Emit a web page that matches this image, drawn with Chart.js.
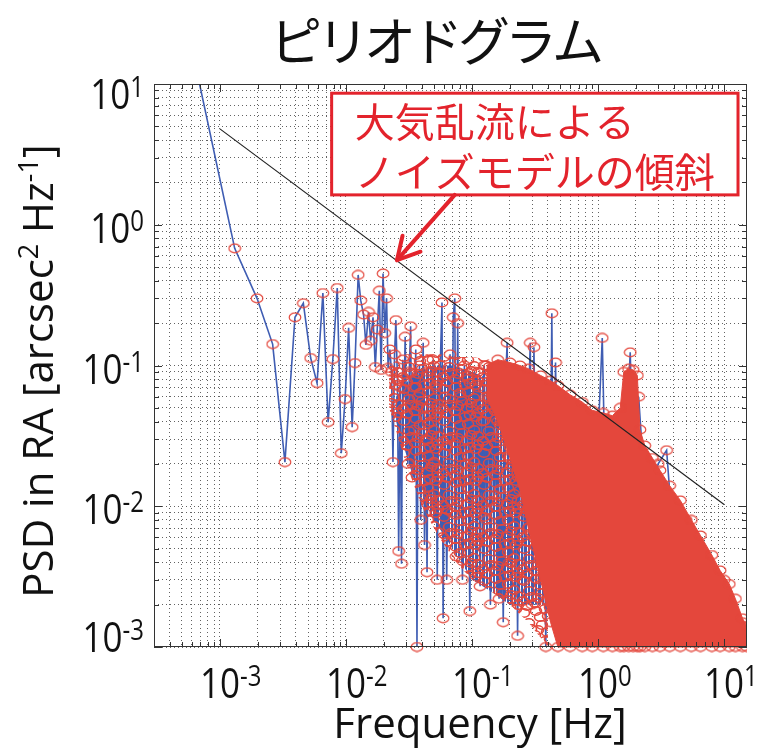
<!DOCTYPE html>
<html>
<head>
<meta charset="utf-8">
<script src="https://cdn.jsdelivr.net/npm/chart.js@4/dist/chart.umd.min.js"></script>
<style>
html, body { margin: 0; padding: 0; background: #fff; }
</style>
</head>
<body>
<canvas id="psd" width="763" height="753"></canvas>
<script>
// text
var chart_title = 'ピリオドグラム';
var x_title = 'Frequency [Hz]';
var y_title = [['PSD in RA [arcsec', 0], ['2', 1], [' Hz', 0], ['-1', 1], [']', 0]];
var note_lines = ['大気乱流による', 'ノイズモデルの傾斜'];

// axes
var x_min = 3e-4, x_max = 15.2, y_min = 1e-3, y_max = 10;
var x_major = [1e-3, 1e-2, 1e-1, 1, 10];
var x_major_exp = ['-3', '-2', '-1', '0', '1'];
var y_major = [1e-3, 1e-2, 1e-1, 1, 10];
var y_major_exp = ['-3', '-2', '-1', '0', '1'];
var minor_steps = [2, 3, 4, 5, 6, 7, 8, 9];

// periodogram, lowest bins (one per frequency step)
var freq_low = [0.00066, 0.00131, 0.00197, 0.00262, 0.00328, 0.00394, 0.00459, 0.00525, 0.0059, 0.00656,
                0.00722, 0.00787, 0.00853, 0.00918, 0.00984, 0.0105, 0.0112, 0.0118, 0.0125, 0.0131,
                0.0138, 0.0144, 0.0151, 0.0157, 0.0164, 0.0171, 0.0177, 0.0184, 0.019, 0.0197];
var psd_low = [12, 0.68, 0.30, 0.142, 0.0206, 0.22, 0.277, 0.113, 0.075, 0.327,
               0.0396, 0.111, 0.355, 0.0238, 0.0577, 0.185, 0.0365, 0.104, 0.44, 0.29,
               0.23, 0.14, 0.24, 0.15, 0.22, 0.0975, 0.18, 0.34, 0.093, 0.45];

// periodogram, dense part (peaks and dips)
var freq_dense = [0.0203, 0.021, 0.0216, 0.0223, 0.023, 0.0236, 0.0243, 0.0249, 0.0256, 0.0262,
                  0.0269, 0.0276, 0.0282, 0.0289, 0.0295, 0.0302, 0.031, 0.0318, 0.0326, 0.0334,
                  0.0342, 0.035, 0.0358, 0.0366, 0.0374, 0.0383, 0.0392, 0.04, 0.041, 0.042,
                  0.043, 0.044, 0.045, 0.046, 0.047, 0.048, 0.049, 0.05, 0.0515, 0.053,
                  0.0545, 0.056, 0.0578, 0.059, 0.061, 0.063, 0.065, 0.067, 0.069, 0.071,
                  0.073, 0.075, 0.077, 0.079, 0.081, 0.084, 0.087, 0.09, 0.093, 0.096,
                  0.1, 0.104, 0.108, 0.112, 0.116, 0.12, 0.125, 0.13, 0.135, 0.14,
                  0.146, 0.152, 0.158, 0.164, 0.17, 0.177, 0.184, 0.19, 0.198, 0.206,
                  0.214, 0.222, 0.23, 0.24, 0.25, 0.26, 0.27, 0.28, 0.29, 0.3,
                  0.31, 0.32, 0.34, 0.355, 0.37, 0.385, 0.4, 0.415, 0.43, 0.445,
                  0.46, 0.48, 0.5, 0.52, 0.55, 0.58, 0.61, 0.7, 0.8, 0.9,
                  1.0, 1.08, 1.15, 1.3, 1.5, 1.7, 1.8, 1.9, 2.1, 2.4,
                  3.0, 3.5, 4.0, 5.0, 7.0, 10, 14];
var psd_dense = [0.17, 0.30, 0.096, 0.13, 0.09, 0.0206, 0.12, 0.21, 0.08, 0.0048,
                 0.07, 0.0039, 0.11, 0.06, 0.16, 0.05, 0.02, 0.09, 0.19, 0.016,
                 0.07, 0.035, 0.13, 0.001, 0.06, 0.10, 0.008, 0.05, 0.145, 0.0053,
                 0.03, 0.0034, 0.09, 0.012, 0.04, 0.0105, 0.11, 0.02, 0.07, 0.003,
                 0.05, 0.10, 0.28, 0.0016, 0.06, 0.003, 0.03, 0.12, 0.009, 0.22,
                 0.30, 0.0044, 0.20, 0.015, 0.06, 0.003, 0.10, 0.02, 0.08, 0.0018,
                 0.05, 0.09, 0.006, 0.07, 0.0027, 0.04, 0.10, 0.008, 0.06, 0.002,
                 0.05, 0.012, 0.08, 0.0022, 0.04, 0.0015, 0.07, 0.145, 0.004, 0.06,
                 0.01, 0.05, 0.0012, 0.07, 0.003, 0.04, 0.009, 0.05, 0.145, 0.002,
                 0.135, 0.02, 0.05, 0.0032, 0.04, 0.001, 0.03, 0.006, 0.235, 0.003,
                 0.105, 0.01, 0.03, 0.004, 0.02, 0.003, 0.015, 0.005, 0.02, 0.004,
                 0.03, 0.157, 0.01, 0.03, 0.005, 0.04, 0.124, 0.02, 0.06, 0.01,
                 0.02, 0.025, 0.005, 0.008, 0.002, 0.003, 0.0015];

// envelope of the solid blue mass of lines
var blue_freq = [0.025, 0.035, 0.05, 0.07, 0.1, 0.14, 0.2, 0.28, 0.38, 0.5];
var blue_top = [0.06, 0.09, 0.1, 0.1, 0.09, 0.08, 0.06, 0.045, 0.03, 0.02];
var blue_low = [0.04, 0.015, 0.008, 0.005, 0.003, 0.0025, 0.002, 0.002, 0.002, 0.003];

// envelope of the mixed red/blue cloud of markers
var mix_freq = [0.022, 0.03, 0.04, 0.055, 0.075, 0.1, 0.14, 0.2, 0.28, 0.4];
var mix_top = [0.1, 0.12, 0.12, 0.12, 0.115, 0.115, 0.11, 0.1, 0.09, 0.08];
var mix_low = [0.05, 0.02, 0.01, 0.006, 0.004, 0.003, 0.0025, 0.002, 0.0015, 0.001];

// envelope of the saturated red cloud of markers
var cloud_freq = [0.13, 0.16, 0.2, 0.24, 0.28, 0.35, 0.42, 0.48, 0.6, 0.75,
                  0.9, 1.1, 1.3, 1.5, 1.6, 1.75, 1.9, 2.05, 2.15, 2.35,
                  2.7, 3.1, 3.7, 4.5, 5.5, 6.5, 8, 9.3, 11, 12.3, 14, 15.2];
var cloud_top = [0.1, 0.11, 0.105, 0.1, 0.095, 0.085, 0.078, 0.072, 0.062, 0.055,
                 0.048, 0.046, 0.044, 0.05, 0.09, 0.095, 0.093, 0.085, 0.035, 0.027,
                 0.022, 0.018, 0.014, 0.011, 0.008, 0.0062, 0.0045, 0.0035, 0.0028, 0.0022, 0.0016, 0.0014];
var cloud_low = [0.06, 0.04, 0.022, 0.013, 0.007, 0.003, 0.0015, 0.001, 0.001, 0.001,
                 0.001, 0.001, 0.001, 0.001, 0.001, 0.001, 0.001, 0.001, 0.001, 0.001,
                 0.001, 0.001, 0.001, 0.001, 0.001, 0.001, 0.001, 0.001, 0.001, 0.001, 0.001, 0.001];

// turbulence model slope
var slope_freq = [1e-3, 10];
var slope_psd = [4.8, 0.0103];

// annotation, in data units
var note_box = {f0: 7.7e-3, f1: 12.9, v0: 8.6, v1: 1.63};
var note_arrow = {f0: 0.073, v0: 1.63, f1: 0.0254, v1: 0.56};

var BLUE = '#3f5db3', RED = '#e4473c', NOTE_RED = '#e3232c';
var LATIN = '"Open Sans"', CJK = '"Noto Sans CJK JP"';
var STRETCH = 1.2;

function pts(xs, ys){
    var out = [];
    for(var i=0; i<xs.length; i++) out.push({x: xs[i], y: ys[i]});
    return out;
}

function makeTicks(majors, lo, hi){
    var out = [];
    var decades = [majors[0]/10].concat(majors);
    decades.forEach(function(d){
        [1].concat(minor_steps).forEach(function(m){
            var v = d*m;
            if(v >= lo*0.999 && v <= hi*1.001) out.push({value: v, major: m === 1});
        });
    });
    return out;
}

function makeRing(color){
    var c = document.createElement('canvas');
    c.width = 14; c.height = 11;
    var g = c.getContext('2d');
    g.strokeStyle = color; g.lineWidth = 1.2;
    g.beginPath(); g.ellipse(7, 5.5, 5.8, 4.3, 0, 0, Math.PI*2); g.stroke();
    return c;
}

// texture of overlapping markers, spots scattered by hand so it does not look like a lattice
function ringFill(color){
    var W = 40, H = 32;
    var spots = [[4,5],[16,3],[28,8],[36,1],[9,15],[22,17],[34,14],[3,25],[15,27],[27,24],
                 [38,29],[20,9],[30,31],[11,21],[25,1],[38,20],[7,30],[31,19],[18,22]];
    var c = document.createElement('canvas');
    c.width = W; c.height = H;
    var g = c.getContext('2d');
    g.strokeStyle = color; g.lineWidth = 1.6;
    spots.forEach(function(p){
        [-W, 0, W].forEach(function(dx){
            [-H, 0, H].forEach(function(dy){
                g.beginPath(); g.ellipse(p[0]+dx, p[1]+dy, 5.5, 4.2, 0, 0, Math.PI*2); g.stroke();
            });
        });
    });
    return g.createPattern(c, 'repeat');
}

// texture of many thin vertical stems
function stripeFill(color){
    var c = document.createElement('canvas');
    c.width = 7; c.height = 4;
    var g = c.getContext('2d');
    g.fillStyle = color;
    [[0,2],[3,2],[6,1]].forEach(function(s){ g.fillRect(s[0], 0, s[1], 4); });
    return g.createPattern(c, 'repeat');
}

function line(ctx, x0, y0, x1, y1){
    ctx.beginPath(); ctx.moveTo(x0, y0); ctx.lineTo(x1, y1); ctx.stroke();
}

function isDecade(v){
    var l = Math.log10(v);
    return Math.abs(l - Math.round(l)) < 1e-6;
}

function richWidth(ctx, parts, big, small){
    var w = 0;
    parts.forEach(function(p){
        ctx.font = (p[1] ? small : big) + 'px ' + LATIN;
        w += ctx.measureText(p[0]).width;
    });
    return w;
}

function drawRich(ctx, parts, x, y, big, small, rise){
    parts.forEach(function(p){
        ctx.font = (p[1] ? small : big) + 'px ' + LATIN;
        ctx.fillText(p[0], x, p[1] ? y - rise : y);
        x += ctx.measureText(p[0]).width;
    });
}

// power of ten label; left is where "10" starts, base is the baseline
function drawPow(ctx, exp, left, base){
    ctx.save();
    ctx.translate(left, base);
    ctx.scale(1, STRETCH);
    drawRich(ctx, [['10', 0], [exp, 1]], 0, 0, 35, 24, 10);
    ctx.restore();
}

function spacedText(ctx, text, cx, cy, spacing){
    var chars = text.split(''), total = 0;
    chars.forEach(function(ch){ total += ctx.measureText(ch).width; });
    total += spacing*(chars.length - 1);
    var x = cx - total/2;
    chars.forEach(function(ch){
        ctx.fillText(ch, x, cy);
        x += ctx.measureText(ch).width + spacing;
    });
}

var decor = {
    id: 'decor',
    afterDraw: function(chart){
        var ctx = chart.ctx, a = chart.chartArea;
        var xs = chart.scales.x, ys = chart.scales.y;
        ctx.save();

        // inward ticks on all four sides and the box
        ctx.strokeStyle = '#333'; ctx.lineWidth = 1;
        xs.ticks.forEach(function(t){
            var px = Math.round(xs.getPixelForValue(t.value)) + 0.5;
            var len = isDecade(t.value) ? 8 : 5;
            line(ctx, px, a.bottom, px, a.bottom - len);
            line(ctx, px, a.top, px, a.top + len);
        });
        ys.ticks.forEach(function(t){
            var py = Math.round(ys.getPixelForValue(t.value)) + 0.5;
            var len = isDecade(t.value) ? 8 : 5;
            line(ctx, a.left, py, a.left + len, py);
            line(ctx, a.right, py, a.right - len, py);
        });
        ctx.strokeRect(a.left + 0.5, a.top + 0.5, a.right - a.left - 1, a.bottom - a.top - 1);

        // tick labels
        ctx.fillStyle = '#111';
        ctx.textBaseline = 'alphabetic'; ctx.textAlign = 'left';
        x_major.forEach(function(v, i){
            ctx.font = '35px ' + LATIN;
            var w10 = ctx.measureText('10').width;
            drawPow(ctx, x_major_exp[i], xs.getPixelForValue(v) - w10/2, a.bottom + 51);
        });
        y_major.forEach(function(v, i){
            var w = richWidth(ctx, [['10', 0], [y_major_exp[i], 1]], 35, 24);
            var c = Math.min(Math.max(ys.getPixelForValue(v) + 3, a.top + 10), a.bottom - 10);
            drawPow(ctx, y_major_exp[i], 144 - w, c + 15);
        });

        // axis titles
        ctx.font = '42px ' + LATIN;
        ctx.textAlign = 'center';
        ctx.fillText(x_title, 480, 738);
        ctx.textAlign = 'left';
        ctx.save();
        ctx.translate(53, 371);
        ctx.rotate(-Math.PI/2);
        var wt = richWidth(ctx, y_title, 42, 27);
        drawRich(ctx, y_title, -wt/2, 0, 42, 27, 15);
        ctx.restore();

        // chart title
        ctx.font = '52px ' + CJK;
        ctx.textBaseline = 'middle';
        spacedText(ctx, chart_title, 437, 41, -5);

        // annotation box and arrow
        var bx0 = xs.getPixelForValue(note_box.f0), bx1 = xs.getPixelForValue(note_box.f1);
        var by0 = ys.getPixelForValue(note_box.v0), by1 = ys.getPixelForValue(note_box.v1);
        ctx.fillStyle = '#fff';
        ctx.fillRect(bx0, by0, bx1 - bx0, by1 - by0);
        ctx.strokeStyle = NOTE_RED; ctx.lineWidth = 3;
        ctx.strokeRect(bx0, by0, bx1 - bx0, by1 - by0);
        ctx.fillStyle = NOTE_RED;
        ctx.font = '40px ' + CJK;
        ctx.textAlign = 'left';
        ctx.fillText(note_lines[0], bx0 + 23, by0 + 29);
        ctx.fillText(note_lines[1], bx0 + 23, by0 + 79);

        var tx = xs.getPixelForValue(note_arrow.f0), ty = ys.getPixelForValue(note_arrow.v0);
        var hx = xs.getPixelForValue(note_arrow.f1), hy = ys.getPixelForValue(note_arrow.v1);
        var ang = Math.atan2(ty - hy, tx - hx);
        ctx.lineWidth = 4; ctx.lineCap = 'round'; ctx.lineJoin = 'round';
        line(ctx, tx, ty, hx, hy);
        ctx.beginPath();
        ctx.moveTo(hx + 25*Math.cos(ang + 0.5), hy + 25*Math.sin(ang + 0.5));
        ctx.lineTo(hx, hy);
        ctx.lineTo(hx + 25*Math.cos(ang - 0.5), hy + 25*Math.sin(ang - 0.5));
        ctx.stroke();

        ctx.restore();
    }
};

var ring = makeRing(RED);
var bottom_clip = {left: 0, top: 0, right: 0, bottom: 7};

var chart = new Chart(document.getElementById('psd'), {
    type: 'line',
    data: {
        datasets: [
            {data: pts(blue_freq, blue_top), borderWidth: 0, pointRadius: 0, fill: '+1',
             backgroundColor: stripeFill(BLUE), order: 6},
            {data: pts(blue_freq, blue_low), borderWidth: 0, pointRadius: 0, fill: false, order: 6},
            {data: pts(freq_low.concat(freq_dense), psd_low.concat(psd_dense)),
             borderColor: BLUE, borderWidth: 1.6, pointStyle: ring, pointRadius: 5,
             fill: false, clip: bottom_clip, order: 5},
            {data: pts(mix_freq, mix_top), borderWidth: 0, pointRadius: 0, fill: '+1',
             backgroundColor: ringFill(RED), order: 4},
            {data: pts(mix_freq, mix_low), borderWidth: 0, pointRadius: 0, fill: false, order: 4},
            {data: pts(cloud_freq, cloud_top), borderColor: RED, borderWidth: 1, fill: '+1',
             backgroundColor: RED, pointStyle: ring, pointRadius: 5, clip: bottom_clip, order: 3},
            {data: pts(cloud_freq, cloud_low), borderColor: RED, borderWidth: 1, fill: false,
             pointStyle: ring, pointRadius: 5, clip: bottom_clip, order: 3},
            {data: pts(slope_freq, slope_psd), borderColor: '#222', borderWidth: 1.2,
             pointRadius: 0, fill: false, order: 1}
        ]
    },
    options: {
        responsive: false,
        animation: false,
        events: [],
        layout: {padding: {top: 84, right: 16, left: 0, bottom: 0}},
        elements: {line: {tension: 0}},
        plugins: {legend: {display: false}, tooltip: {enabled: false}, title: {display: false}},
        scales: {
            x: {
                type: 'logarithmic', min: x_min, max: x_max,
                afterBuildTicks: function(s){ s.ticks = makeTicks(x_major, x_min, x_max); },
                afterFit: function(s){ s.height = 106; },
                ticks: {display: false},
                grid: {color: 'rgba(60,60,60,0.8)', lineWidth: 1, drawTicks: false},
                border: {display: false, dash: [1, 3]}
            },
            y: {
                type: 'logarithmic', min: y_min, max: y_max,
                afterBuildTicks: function(s){ s.ticks = makeTicks(y_major, y_min, y_max); },
                afterFit: function(s){ s.width = 154; },
                ticks: {display: false},
                grid: {color: 'rgba(60,60,60,0.8)', lineWidth: 1, drawTicks: false},
                border: {display: false, dash: [1, 3]}
            }
        }
    },
    plugins: [decor]
});
</script>
</body>
</html>
